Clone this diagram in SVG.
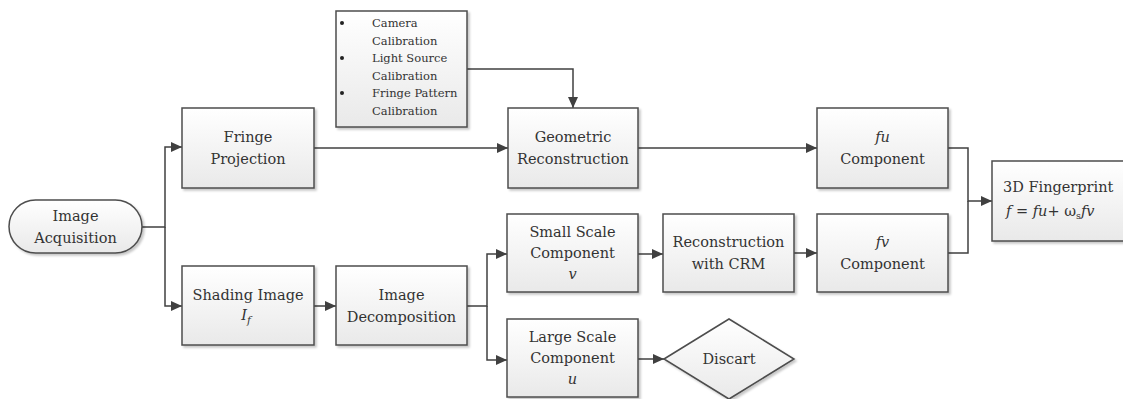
<svg xmlns="http://www.w3.org/2000/svg" width="1123" height="399" viewBox="0 0 1123 399">
<defs>
<linearGradient id="g" x1="0" y1="0" x2="0" y2="1">
<stop offset="0" stop-color="#ffffff"/>
<stop offset="1" stop-color="#e9e9e9"/>
</linearGradient>
<filter id="sh" x="-10%" y="-10%" width="130%" height="130%">
<feDropShadow dx="2" dy="2" stdDeviation="1.2" flood-color="#000" flood-opacity="0.22"/>
</filter>
<marker id="ar" markerUnits="userSpaceOnUse" markerWidth="12" markerHeight="12" viewBox="0 0 12 12" refX="11" refY="6" orient="auto">
<path d="M0,1 L11,6 L0,11 Z" fill="#404040"/>
</marker>
</defs>
<style>
.box{fill:url(#g);stroke:#4d4d4d;stroke-width:1.5;filter:url(#sh)}
.t{font-family:'DejaVu Serif',serif;font-size:14.5px;fill:#333;text-anchor:middle}
.s{font-family:'DejaVu Serif',serif;font-size:11.5px;fill:#333}
.i{font-style:italic}
.c{fill:none;stroke:#404040;stroke-width:1.5}
</style>
<rect width="1123" height="399" fill="#fff"/>

<g id="connectors">
<path class="c" d="M142,227 H165 V147 H182" marker-end="url(#ar)"/>
<path class="c" d="M165,227 V306 H182" marker-end="url(#ar)"/>
<path class="c" d="M314,148 H508" marker-end="url(#ar)"/>
<path class="c" d="M467,69 H573 V108" marker-end="url(#ar)"/>
<path class="c" d="M638,148 H817" marker-end="url(#ar)"/>
<path class="c" d="M948,148 H968 V201 H992" marker-end="url(#ar)"/>
<path class="c" d="M948,253 H968 V201"/>
<path class="c" d="M314,306 H336" marker-end="url(#ar)"/>
<path class="c" d="M467,306 H487 V254 H507" marker-end="url(#ar)"/>
<path class="c" d="M487,306 V360 H507" marker-end="url(#ar)"/>
<path class="c" d="M638,254 H663" marker-end="url(#ar)"/>
<path class="c" d="M794,253 H817" marker-end="url(#ar)"/>
<path class="c" d="M638,359 H664" marker-end="url(#ar)"/>
</g>

<g id="acquisition">
<rect class="box" x="9" y="200" width="133" height="53" rx="26.5"/>
<text class="t" x="75.5" y="221">Image</text>
<text class="t" x="75.5" y="243">Acquisition</text>
</g>

<g id="fringe-projection">
<rect class="box" x="182" y="108" width="132" height="80"/>
<text class="t" x="248" y="142">Fringe</text>
<text class="t" x="248" y="164">Projection</text>
</g>

<g id="calibration">
<rect class="box" x="336" y="11" width="131" height="116"/>
<circle cx="342" cy="23" r="2" fill="#222"/>
<circle cx="342" cy="58" r="2" fill="#222"/>
<circle cx="342" cy="93" r="2" fill="#222"/>
<text class="s" x="372" y="27">Camera</text>
<text class="s" x="372" y="45">Calibration</text>
<text class="s" x="372" y="62">Light Source</text>
<text class="s" x="372" y="80">Calibration</text>
<text class="s" x="372" y="97">Fringe Pattern</text>
<text class="s" x="372" y="115">Calibration</text>
</g>

<g id="geometric-reconstruction">
<rect class="box" x="508" y="108" width="130" height="80"/>
<text class="t" x="573" y="142">Geometric</text>
<text class="t" x="573" y="164">Reconstruction</text>
</g>

<g id="fu-component">
<rect class="box" x="817" y="108" width="131" height="80"/>
<text class="t i" x="882.5" y="142">fu</text>
<text class="t" x="882.5" y="164">Component</text>
</g>

<g id="fingerprint">
<rect class="box" x="992" y="161" width="140" height="80"/>
<text class="t" x="1003" y="192" style="text-anchor:start">3D Fingerprint</text>
<text class="t" x="1006" y="216" style="text-anchor:start"><tspan class="i">f</tspan> = <tspan class="i">fu</tspan>+ ω<tspan font-size="9.5" dy="3">s</tspan><tspan class="i" dy="-3">fv</tspan></text>
</g>

<g id="shading-image">
<rect class="box" x="182" y="266" width="132" height="79"/>
<text class="t" x="248" y="300">Shading Image</text>
<text class="t i" x="246" y="320">I<tspan font-size="10.5" dy="4">f</tspan></text>
</g>

<g id="image-decomposition">
<rect class="box" x="336" y="266" width="131" height="79"/>
<text class="t" x="401.5" y="300">Image</text>
<text class="t" x="401.5" y="322">Decomposition</text>
</g>

<g id="small-scale">
<rect class="box" x="507" y="214" width="131" height="78"/>
<text class="t" x="572.5" y="237">Small Scale</text>
<text class="t" x="572.5" y="258">Component</text>
<text class="t i" x="572.5" y="279">v</text>
</g>

<g id="large-scale">
<rect class="box" x="507" y="319" width="131" height="78"/>
<text class="t" x="572.5" y="342">Large Scale</text>
<text class="t" x="572.5" y="363">Component</text>
<text class="t i" x="572.5" y="384">u</text>
</g>

<g id="reconstruction-crm">
<rect class="box" x="663" y="214" width="131" height="78"/>
<text class="t" x="728.5" y="247">Reconstruction</text>
<text class="t" x="728.5" y="269">with CRM</text>
</g>

<g id="fv-component">
<rect class="box" x="817" y="214" width="131" height="78"/>
<text class="t i" x="882.5" y="247">fv</text>
<text class="t" x="882.5" y="269">Component</text>
</g>

<g id="discard">
<polygon class="box" points="664,359 729,319 794,359 729,399"/>
<text class="t" x="729" y="364">Discart</text>
</g>
</svg>
